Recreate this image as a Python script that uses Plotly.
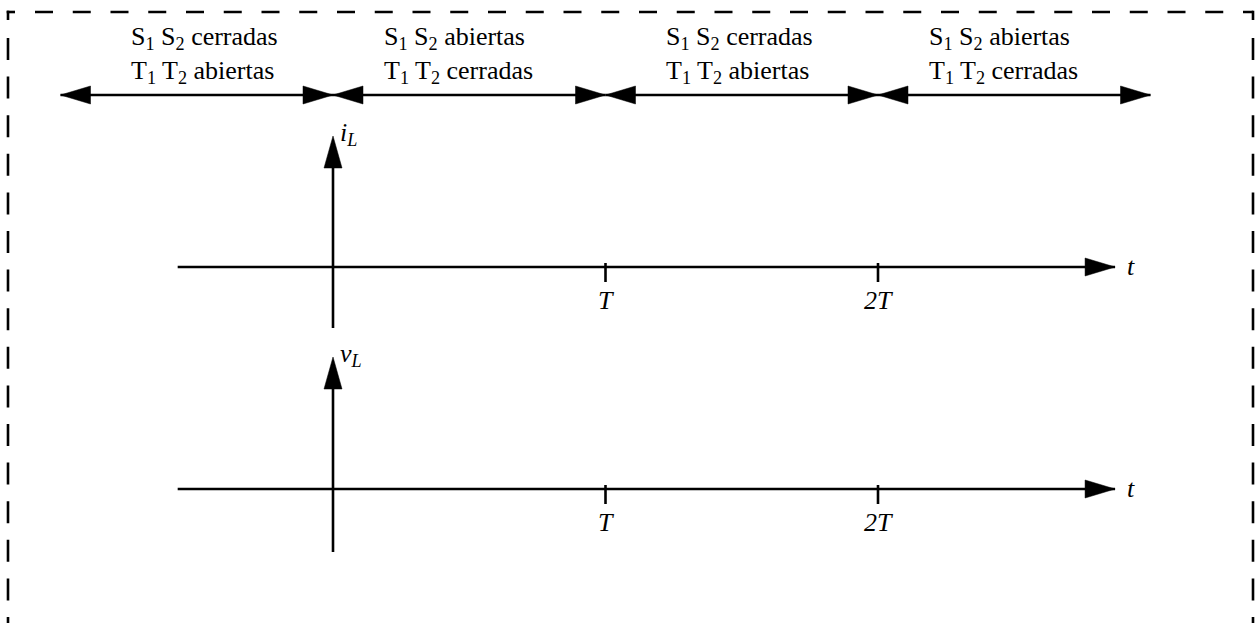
import plotly.graph_objects as go

# switching intervals of the bridge, edges in units of T
segment_edges = [-1, 0, 1, 2, 3]
segment_labels = [
    "S<sub>1</sub> S<sub>2</sub> cerradas<br>T<sub>1</sub> T<sub>2</sub> abiertas",
    "S<sub>1</sub> S<sub>2</sub> abiertas<br>T<sub>1</sub> T<sub>2</sub> cerradas",
    "S<sub>1</sub> S<sub>2</sub> cerradas<br>T<sub>1</sub> T<sub>2</sub> abiertas",
    "S<sub>1</sub> S<sub>2</sub> abiertas<br>T<sub>1</sub> T<sub>2</sub> cerradas",
]
tick_vals = [1, 2]
tick_text = ["<i>T</i>", "<i>2T</i>"]
signal_names = ["<i>i</i><sub><i>L</i></sub>", "<i>v</i><sub><i>L</i></sub>"]
time_name = "<i>t</i>"

# layout (canvas is 1255 x 623 px, x in units of T, y in px from top)
W, H = 1255, 623
X0_PX, T_PX = 333, 272.5
x_range = [-X0_PX / T_PX, (W - X0_PX) / T_PX]
label_left = [-0.75, 0.18, 1.215, 2.18]
row_y = 95
axis_y = [267, 489]
axis_top = [136, 357]
axis_bottom = [328, 552]
t_start, t_end = -0.57, 2.87
LW = 2.6
FONT = '"Liberation Serif", "Times New Roman", Times, serif'

fig = go.Figure()
shapes = []
ann = []


def arrowhead(x, y, direction, length=30, half=9):
    # filled triangle, tip at (x, y), sized in pixels
    if direction == "right":
        path = f"M0,0 L{-length},{half} L{-length},{-half} Z"
    elif direction == "left":
        path = f"M0,0 L{length},{half} L{length},{-half} Z"
    else:  # up
        path = f"M0,0 L{-half},{-length} L{half},{-length} Z"
    return dict(type="path", xref="x", yref="y", xsizemode="pixel", ysizemode="pixel",
                xanchor=x, yanchor=y, path=path, fillcolor="black",
                line=dict(color="black", width=0.5))


def line(x0, y0, x1, y1):
    return dict(type="line", xref="x", yref="y", x0=x0, y0=y0, x1=x1, y1=y1,
                line=dict(color="black", width=LW))


# top row of double arrows
for i, lab in enumerate(segment_labels):
    a, b = segment_edges[i], segment_edges[i + 1]
    shapes.append(line(a, row_y, b, row_y))
    shapes.append(arrowhead(a, row_y, "left"))
    shapes.append(arrowhead(b, row_y, "right"))
    ann.append(dict(x=label_left[i], y=55, text=lab, xanchor="left", yanchor="middle",
                    align="left", showarrow=False, font=dict(family=FONT, size=26)))

# two time axes, i_L and v_L
for k in range(2):
    ay = axis_y[k]
    shapes.append(line(t_start, ay, t_end, ay))
    shapes.append(arrowhead(t_end, ay, "right", 30, 9))
    shapes.append(line(0, axis_bottom[k], 0, axis_top[k] + 10))
    shapes.append(arrowhead(0, axis_top[k], "up", 32, 9))
    for tv, tt in zip(tick_vals, tick_text):
        shapes.append(line(tv, ay - 4, tv, ay + 15))
        ann.append(dict(x=tv, y=ay + 33, text=tt, xanchor="center", yanchor="middle",
                        showarrow=False, font=dict(family=FONT, size=26)))
    ann.append(dict(x=t_end + 0.035, y=ay - 1, text=time_name, xanchor="left", yanchor="middle",
                    showarrow=False, font=dict(family=FONT, size=26)))
    ann.append(dict(x=0.02, y=axis_top[k] - 2, text=signal_names[k], xanchor="left",
                    yanchor="middle", showarrow=False, font=dict(family=FONT, size=26)))

# dashed frame (no bottom edge, cut off by the page)
bx0, bx1, by0 = 8, 1253, 12
frame = dict(color="black", width=2.6)


def pline(x0, y0, x1, y1, dash="solid"):
    return dict(type="line", xref="paper", yref="paper", x0=x0 / W, x1=x1 / W,
                y0=1 - y0 / H, y1=1 - y1 / H, line=dict(frame, dash=dash))


shapes.append(pline(35, by0, bx1, by0, "18px,19.75px"))
shapes.append(pline(bx0 - 1.3, by0, 15, by0))
for xb in (bx0, bx1):
    shapes.append(pline(xb, by0 - 1.3, xb, 20))
    shapes.append(pline(xb, 38, xb, H + 5, "22px,16.6px"))

fig.update_layout(
    width=W, height=H, margin=dict(l=0, r=0, t=0, b=0),
    plot_bgcolor="white", paper_bgcolor="white",
    showlegend=False, shapes=shapes, annotations=ann,
    font=dict(family=FONT, color="black"),
    xaxis=dict(range=x_range, visible=False, fixedrange=True),
    yaxis=dict(range=[H, 0], visible=False, fixedrange=True),
)
fig.write_html("out.html", config=dict(displayModeBar=False),
               post_script="document.body.style.margin='0';document.body.style.overflow='hidden';")
